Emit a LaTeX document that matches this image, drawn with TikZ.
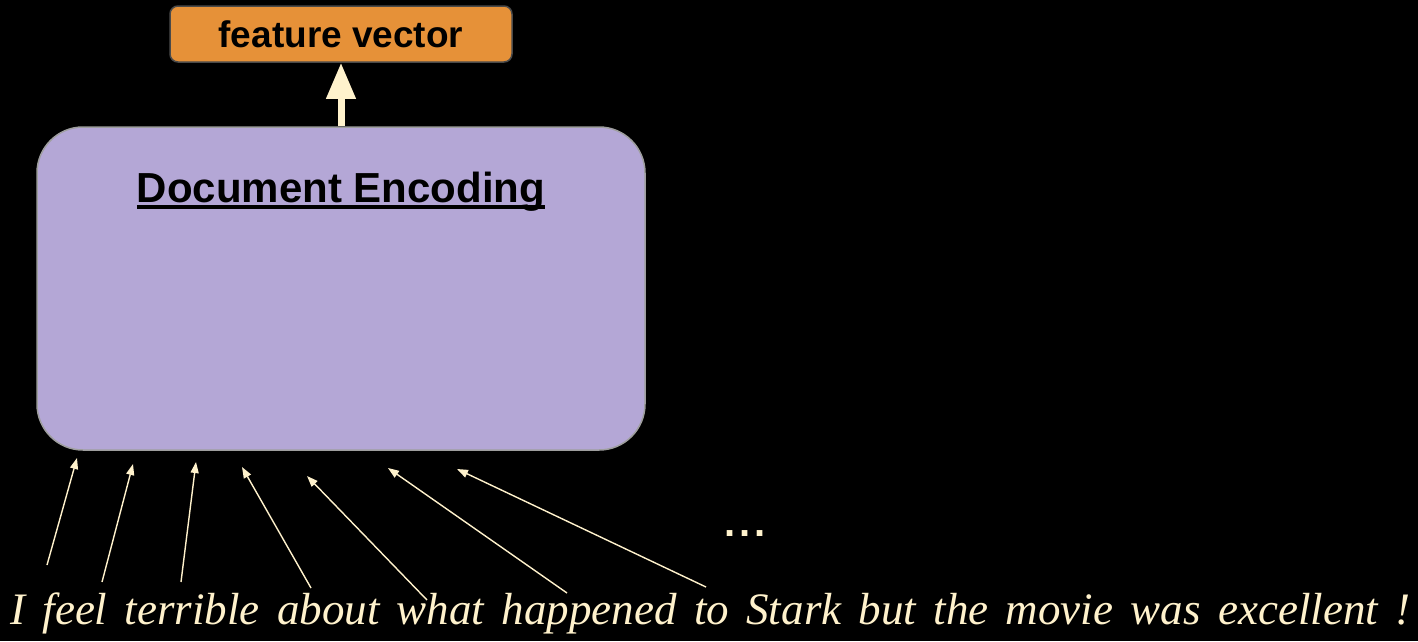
\documentclass[tikz,border=0pt]{standalone}
\usepackage{fontspec}
\setmainfont{Liberation Sans}
\newfontfamily\sentfont{Liberation Serif}
\usetikzlibrary{arrows.meta}
\definecolor{cream}{HTML}{FFF2CC}
\definecolor{lavender}{HTML}{B4A7D6}
\definecolor{boxgrey}{HTML}{9E9E9E}
\definecolor{orangefill}{HTML}{E69138}
\definecolor{orangeedge}{HTML}{4A4A4A}
% underline with a heavier rule than \underline gives
\newcommand{\heavyul}[1]{\setbox0\hbox{#1}\rlap{\box0}\setbox0\hbox{#1}\rule[-7pt]{\wd0}{4pt}}
\tikzset{
  encbox/.style={draw=boxgrey, line width=1.5pt, fill=lavender, rounded corners=46pt,
    minimum width=608pt, minimum height=323pt, inner sep=0pt},
  featbox/.style={draw=orangeedge, line width=1.5pt, fill=orangefill, rounded corners=8pt,
    minimum width=342pt, minimum height=56pt, inner sep=0pt,
    font=\fontsize{37}{40}\selectfont\bfseries},
  title/.style={font=\fontsize{42}{46}\selectfont\bfseries, inner sep=0pt},
  outarrow/.style={draw=cream, line width=7pt, -{Triangle[length=36pt,width=28pt]}},
  wordarrow/.style={draw=cream, line width=1.4pt, -{Triangle[length=11pt,width=8pt]}},
  sentence/.style={text=cream, inner sep=0pt, font=\fontsize{45}{50}\selectfont\sentfont\itshape},
  ellip/.style={text=cream, inner sep=0pt, font=\fontsize{40}{44}\selectfont\bfseries},
}
\begin{document}
\begin{tikzpicture}[x=1pt,y=-1pt]
  % canvas
  \path[fill=black, use as bounding box] (0,0) rectangle (1418,641);

  % blocks
  \node[featbox] (feat) at (341,34) {feature vector};
  \node[encbox] (enc) at (341,288.5) {};
  \node[title, anchor=base] (enctitle) at (341,202) {\heavyul{Document Encoding}};

  % encoder output
  \draw[outarrow] (enc.north) -- (feat.south);

  % input sentence
  \node[sentence, anchor=base west] (sent) at (10,624) {\hbox to 1400pt{I\hfil feel\hfil terrible\hfil about\hfil what\hfil happened\hfil to\hfil Stark\hfil but\hfil the\hfil movie\hfil was\hfil excellent\hfil !}};
  \node[ellip, anchor=base] (dots) at (745,536) {.\kern3.5pt.\kern3.5pt.};

  % word to encoder connections
  \coordinate (w1) at (47,565);   \coordinate (t1) at (77,458);
  \coordinate (w2) at (102,582);  \coordinate (t2) at (133,464);
  \coordinate (w3) at (181,582);  \coordinate (t3) at (196,462);
  \coordinate (w4) at (311,588);  \coordinate (t4) at (242,467);
  \coordinate (w5) at (427,600);  \coordinate (t5) at (307,476);
  \coordinate (w6) at (567,593);  \coordinate (t6) at (388,468);
  \coordinate (w7) at (706,587);  \coordinate (t7) at (457,469);
  \foreach \i in {1,...,7} {
    \draw[wordarrow] (w\i) -- (t\i);
  }
\end{tikzpicture}
\end{document}
